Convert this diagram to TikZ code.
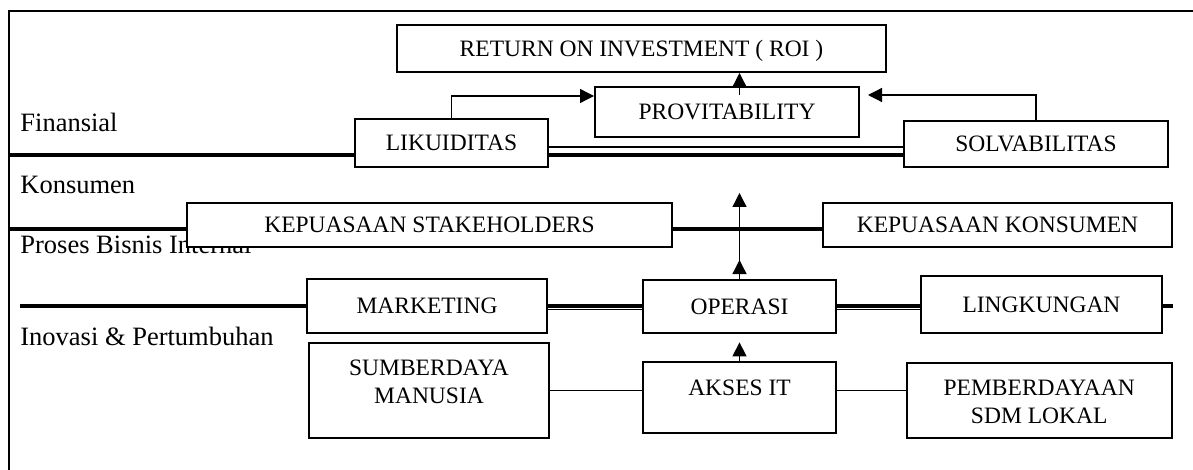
\documentclass[tikz,border=0pt]{standalone}
\usepackage{fontspec}
\setmainfont{Liberation Serif}
\usetikzlibrary{arrows.meta}

\tikzset{
  kotak/.style={draw, line width=1pt, fill=white, inner sep=0pt,
    font=\fontsize{11.75pt}{14pt}\selectfont, text height=7.8pt, text depth=0pt},
  perspektif/.style={anchor=base west, inner sep=0pt,
    font=\fontsize{13.25pt}{16pt}\selectfont},
  tebal/.style={line width=1.8pt},
  tipis/.style={line width=0.65pt},
  panah/.style={line width=0.65pt, -{Triangle[width=7pt,length=7pt]}}
}

\begin{document}
\begin{tikzpicture}[x=0.5pt,y=-0.5pt]
  \useasboundingbox (0,0) rectangle (1193,470);

  % Bingkai
  \draw[line width=0.85pt] (9,470) -- (9,11) -- (1193,11);

  % Nama perspektif
  \node[perspektif] (fin) at (20,131.7) {Finansial};
  \node[perspektif] (kon) at (20,193.3) {Konsumen};
  \node[perspektif] (pbi) at (20,254) {Proses Bisnis Internal};
  \node[perspektif] (inp) at (20,345.7) {Inovasi \& Pertumbuhan};

  % Kotak-kotak (diisi putih, menutupi teks di belakangnya)
  \node[kotak, minimum width=244.5pt, minimum height=23.5pt] (roi) at (641.5,48.5) {RETURN ON INVESTMENT ( ROI )};
  \node[kotak, minimum width=132pt, minimum height=25pt] (prov) at (727,112) {PROVITABILITY};
  \node[kotak, minimum width=96.5pt, minimum height=24pt] (likuid) at (451.5,143) {LIKUIDITAS};
  \node[kotak, minimum width=132pt, minimum height=23pt] (solv) at (1036,144) {SOLVABILITAS};
  \node[kotak, minimum width=242.5pt, minimum height=22pt] (stake) at (429.5,225) {KEPUASAAN STAKEHOLDERS};
  \node[kotak, minimum width=174.5pt, minimum height=22pt] (kons) at (997.5,225) {KEPUASAAN KONSUMEN};
  \node[kotak, minimum width=120pt, minimum height=27pt] (mark) at (427,306) {MARKETING};
  \node[kotak, minimum width=96.5pt, minimum height=26.5pt] (oper) at (739.5,306.5) {OPERASI};
  \node[kotak, minimum width=120.5pt, minimum height=28.5pt] (ling) at (1041.5,304.5) {LINGKUNGAN};
  \node[kotak, minimum width=120pt, text height=30pt, text depth=17.5pt] (sdm) at (429,390.5)
    {\parbox[b]{120pt}{\centering SUMBERDAYA\\MANUSIA}};
  \node[kotak, minimum width=96.5pt, text height=16.65pt, text depth=19.15pt] (aks) at (739.5,397.5) {AKSES IT};
  \node[kotak, minimum width=132.5pt, text height=30pt, text depth=7.5pt] (pemb) at (1039.2,400.8)
    {\parbox[b]{132.5pt}{\centering PEMBERDAYAAN\\SDM LOKAL}};

  % Garis pembagi antar perspektif
  \coordinate (g1) at (9,155);
  \coordinate (g1b) at (9,147);
  \coordinate (g2) at (9,229);
  \coordinate (g3) at (20,306);
  \coordinate (g3b) at (20,309.5);
  \draw[tebal] (g1) -- (g1 -| likuid.west);
  \draw[tebal] (g1 -| likuid.east) -- (g1 -| solv.west);
  \draw[tipis] (g1b -| likuid.east) -- (g1b -| solv.west);
  \draw[tebal] (g2) -- (g2 -| stake.west);
  \draw[tebal] (g2 -| stake.east) -- (g2 -| kons.west);
  \draw[tebal] (g3) -- (g3 -| mark.west);
  \draw[tebal] (g3 -| mark.east) -- (g3 -| oper.west);
  \draw[tipis] (g3b -| mark.east) -- (g3b -| oper.west);
  \draw[tebal] (g3 -| oper.east) -- (g3 -| ling.west);
  \draw[tipis] (g3b -| oper.east) -- (g3b -| ling.west);
  \draw[tebal] (g3 -| ling.east) -- ++(10,0);

  % Garis penghubung
  \draw[tipis] (sdm.east) -- (sdm.east -| aks.west);
  \draw[tipis] (sdm.east -| aks.east) -- (sdm.east -| pemb.west);

  % Panah
  \coordinate (sumbu) at (739.5,95);
  \coordinate (puncak) at (739.5,193);
  \draw[panah] (sumbu) -- (sumbu |- roi.south);
  \draw[panah] (likuid.north) |- ([yshift=-5pt]prov.north west);
  \draw[panah] (solv.north) |- ([xshift=4pt,yshift=-4.5pt]prov.north east);
  \draw[panah] (oper.north) -- (puncak);
  \draw[panah] (oper.north) -- ++(0,-19);
  \draw[panah] (aks.north) -- ([yshift=-4.2pt]oper.south);
\end{tikzpicture}
\end{document}
